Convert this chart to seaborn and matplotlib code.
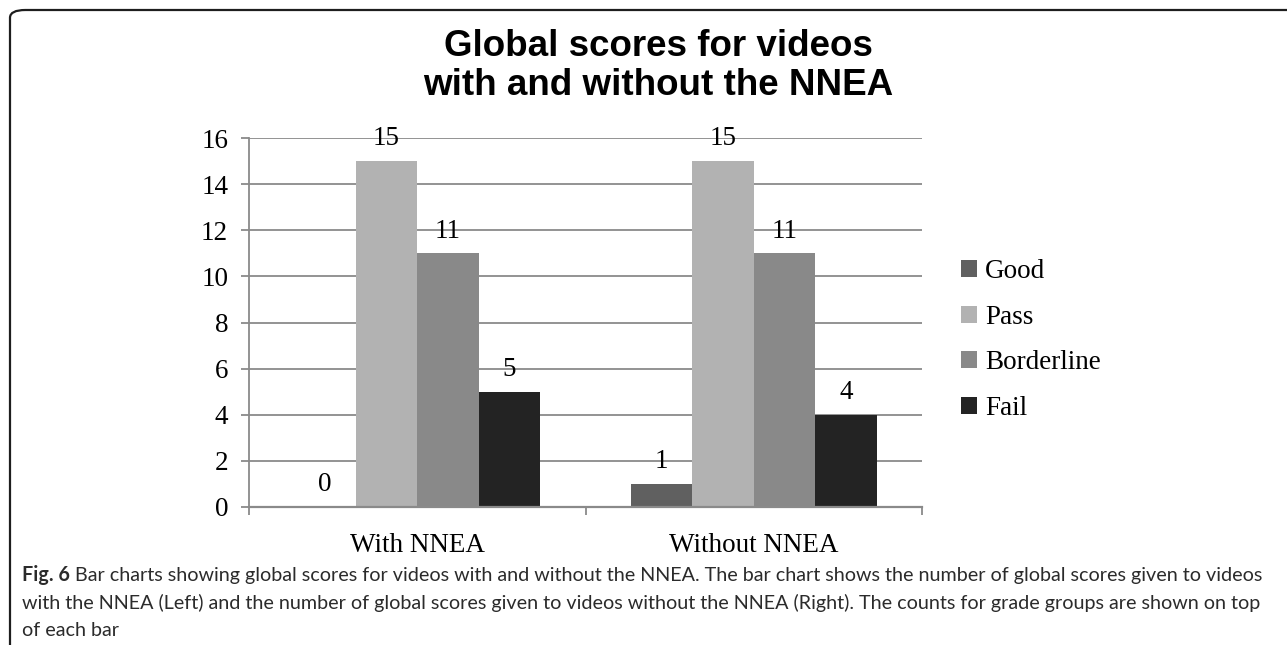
import matplotlib
matplotlib.use("Agg")
import matplotlib.pyplot as plt
from matplotlib.patches import FancyBboxPatch, Patch
import pandas as pd
import seaborn as sns

# Data
groups = ["With NNEA", "Without NNEA"]
grades = ["Good", "Pass", "Borderline", "Fail"]
with_nnea = [0, 15, 11, 5]
without_nnea = [1, 15, 11, 4]
grade_colors = ["#606060", "#b2b2b2", "#898989", "#232323"]
y_ticks = [0, 2, 4, 6, 8, 10, 12, 14, 16]

title_text = "Global scores for videos\nwith and without the NNEA"
caption_bold = "Fig. 6"
caption_lines = [
    " Bar charts showing global scores for videos with and without the NNEA. The bar chart shows the number of global scores given to videos",
    "with the NNEA (Left) and the number of global scores given to videos without the NNEA (Right). The counts for grade groups are shown on top",
    "of each bar",
]

df = pd.DataFrame({
    "group": [groups[0]] * 4 + [groups[1]] * 4,
    "grade": grades * 2,
    "count": with_nnea + without_nnea,
})

sns.set_theme(style="white")
serif = ["Liberation Serif", "DejaVu Serif"]
plt.rcParams["font.family"] = serif
plt.rcParams["text.color"] = "black"
plt.rcParams["xtick.color"] = "black"
plt.rcParams["ytick.color"] = "black"

W, H = 1287, 645
fig = plt.figure(figsize=(W / 100, H / 100), dpi=100)

def fx(px):
    return px / W

def fy(py):
    return 1 - py / H

# Outer frame with rounded top-left corner
frame = FancyBboxPatch((fx(10), fy(700)), fx(1400), (700 - 10) / H,
                       boxstyle="round,pad=0,rounding_size=0.012",
                       transform=fig.transFigure, fill=False,
                       edgecolor="#1e1e1e", linewidth=1.6, clip_on=False)
fig.patches.append(frame)

ax = fig.add_axes([fx(249), fy(507), fx(922 - 249), (507 - 138) / H])

sns.barplot(data=df, x="group", y="count", hue="grade", hue_order=grades,
            palette=grade_colors, saturation=1, width=0.73, ax=ax,
            edgecolor="none", linewidth=0, legend=False, zorder=3)

ax.set_ylim(0, 16)
ax.set_xlim(-0.5, 1.5)
ax.set_yticks(y_ticks)
ax.set_xlabel("")
ax.set_ylabel("")

grid_c = "#8a8a8a"
ax.yaxis.grid(True, color=grid_c, linewidth=1.3, zorder=0)
ax.set_axisbelow(True)
for s in ["top", "right"]:
    ax.spines[s].set_visible(False)
ax.spines["left"].set_color(grid_c)
ax.spines["left"].set_linewidth(1.3)
ax.spines["bottom"].set_color(grid_c)
ax.spines["bottom"].set_linewidth(1.6)
ax.spines["left"].set_zorder(4)
ax.spines["bottom"].set_zorder(4)

tick_size = 19.5
ax.tick_params(axis="y", which="major", length=6, width=1.3, color=grid_c,
               labelsize=tick_size, labelcolor="black", pad=9, left=True)
ax.tick_params(axis="x", which="major", length=0, labelsize=tick_size,
               labelcolor="black", pad=19)
ax.set_xticks([-0.5, 0.5, 1.5], minor=True)
ax.tick_params(axis="x", which="minor", length=6, width=1.3, color=grid_c,
               bottom=True, direction="out")

for c in ax.containers:
    ax.bar_label(c, fmt="%d", padding=7, fontsize=tick_size, color="black")

# Legend to the right of the plot
handles = [Patch(facecolor=c, edgecolor="none", label=g)
           for g, c in zip(grades, grade_colors)]
fig.legend(handles=handles, loc="center left",
           bbox_to_anchor=(fx(950), fy(340)), frameon=False,
           fontsize=tick_size, handlelength=0.6, handleheight=0.6,
           handletextpad=0.3, labelspacing=0.76, borderaxespad=0,
           labelcolor="black")

fig.text(fx(658), fy(66), title_text, ha="center", va="center",
         family=["Liberation Sans", "DejaVu Sans"], fontweight="bold",
         fontsize=26.5, linespacing=1.12, color="black")

# Caption below the chart
cap_family = ["Lato", "DejaVu Sans"]
cap_size = 14.2
cap_color = "#2b2b2b"
t_bold = fig.text(fx(22), fy(575), caption_bold, ha="left", va="center",
                  family=cap_family, fontweight="bold", fontsize=cap_size,
                  color=cap_color)
fig.canvas.draw()
bb = t_bold.get_window_extent()
fig.text(bb.x1 / W, fy(575), caption_lines[0], ha="left", va="center",
         family=cap_family, fontsize=cap_size, color=cap_color)
fig.text(fx(22), fy(603), caption_lines[1], ha="left", va="center",
         family=cap_family, fontsize=cap_size, color=cap_color)
fig.text(fx(22), fy(630), caption_lines[2], ha="left", va="center",
         family=cap_family, fontsize=cap_size, color=cap_color)

fig.savefig("out.png", dpi=100, facecolor="white")
